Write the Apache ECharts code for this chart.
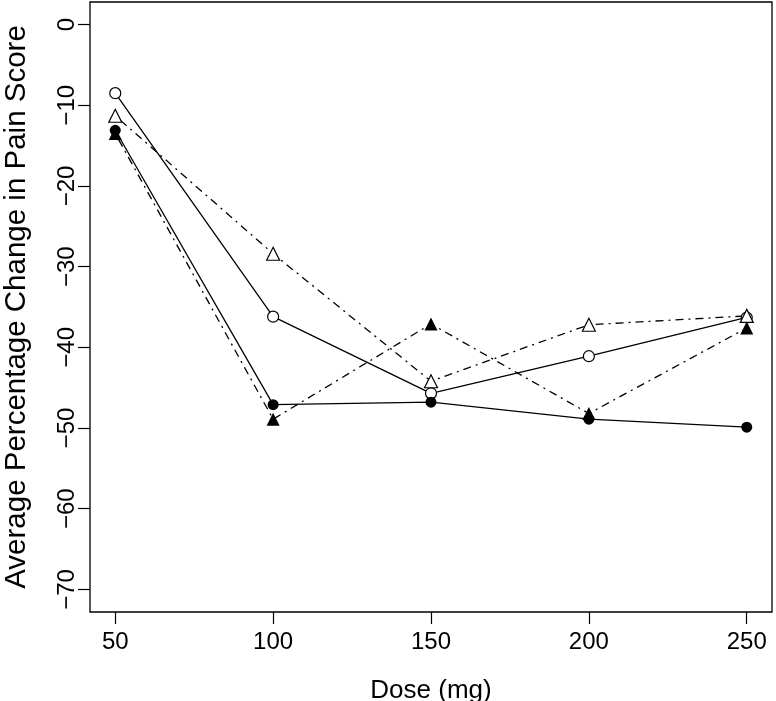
<!DOCTYPE html>
<html>
<head>
<meta charset="utf-8">
<script src="https://cdn.jsdelivr.net/npm/echarts@6/dist/echarts.min.js"></script>
<style>html,body{margin:0;padding:0;background:#fff}#c{width:776px;height:701px}</style>
</head>
<body>
<div id="c"></div>
<script>
const doses = [50, 100, 150, 200, 250];
const xTicks = [50, 100, 150, 200, 250];
const yTicks = [0, -10, -20, -30, -40, -50, -60, -70];
const openCircle = [-8.5, -36.2, -45.7, -41.1, -36.3];
const filledCircle = [-13.1, -47.1, -46.8, -48.9, -49.9];
const openTriangle = [-11.3, -28.4, -44.2, -37.2, -36.1];
const filledTriangle = [-13.5, -48.9, -37.1, -48.2, -37.6];

const font = 'Liberation Sans, Arial, Helvetica, sans-serif';
const pairs = v => doses.map((d, i) => [d, v[i]]);
const solid = { color: '#000', width: 1.3, type: 'solid' };
const dotdash = { color: '#000', width: 1.3, type: [2, 5, 8, 5] };

function series(name, data, symbol, filled, line, size) {
  return {
    name, type: 'line', data: pairs(data), symbol, symbolSize: size,
    showSymbol: true, lineStyle: line,
    itemStyle: { color: filled ? '#000' : '#fff', borderColor: '#000', borderWidth: filled ? 0 : 1.2 },
    emphasis: { disabled: true }, animation: false, z: 3
  };
}

const chart = echarts.init(document.getElementById('c'), null, { renderer: 'canvas' });
chart.setOption({
  backgroundColor: '#fff',
  animation: false,
  grid: { left: 90, right: 4, top: 2, bottom: 89, outerBoundsMode: 'none', containLabel: false,
    show: true, borderColor: '#000', borderWidth: 1.3, backgroundColor: 'transparent' },
  xAxis: {
    type: 'value', min: 42, max: 258,
    name: 'Dose (mg)', nameLocation: 'middle', nameGap: 66,
    nameTextStyle: { fontFamily: font, fontSize: 26, color: '#000' },
    axisLine: { show: false, onZero: false },
    splitLine: { show: false },
    axisTick: { show: true, inside: false, length: 12, customValues: xTicks, lineStyle: { color: '#000', width: 1.2 } },
    axisLabel: { customValues: xTicks, margin: 18, fontFamily: font, fontSize: 24, color: '#000' }
  },
  yAxis: {
    type: 'value', min: -72.8, max: 2.8,
    name: 'Average Percentage Change in Pain Score', nameLocation: 'middle', nameGap: 58,
    nameTextStyle: { fontFamily: font, fontSize: 29.5, color: '#000' },
    axisLine: { show: false, onZero: false },
    splitLine: { show: false },
    axisTick: { show: true, inside: false, length: 12, customValues: yTicks, lineStyle: { color: '#000', width: 1.2 } },
    axisLabel: { customValues: yTicks, rotate: 90, margin: 11, fontFamily: font, fontSize: 24, color: '#000',
      formatter: v => (v < 0 ? '\u2212' + Math.abs(v) : String(v)) }
  },
  series: [
    series('Open circle', openCircle, 'circle', false, solid, 11),
    series('Filled circle', filledCircle, 'circle', true, solid, 11),
    series('Open triangle', openTriangle, 'triangle', false, dotdash, 13),
    series('Filled triangle', filledTriangle, 'triangle', true, dotdash, 13)
  ]
});
</script>
</body>
</html>
